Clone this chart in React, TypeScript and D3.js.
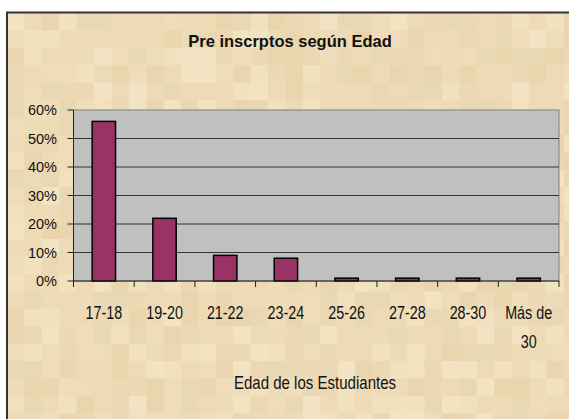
import React from "react";
import * as d3 from "d3";

const categories = ["17-18", "19-20", "21-22", "23-24", "25-26", "27-28", "28-30", "Más de 30"];
const values = [0.56, 0.22, 0.09, 0.08, 0.01, 0.01, 0.01, 0.01];
const yTicks = [0, 0.1, 0.2, 0.3, 0.4, 0.5, 0.6];
const title = "Pre inscrptos según Edad";
const xTitle = "Edad de los Estudiantes";

const W = 569;
const H = 419;
const palette = ["#EFDDB9", "#ECD8B2", "#F1E1BF", "#EAD5AE", "#EEDAB5", "#F2E3C3", "#E9D8B4", "#EDDBB7"];

export default function App() {
  const x = d3.scaleBand<string>().domain(categories).range([73.5, 559]).paddingInner(0.615).paddingOuter(0.3075);
  const xb = d3.scaleBand<string>().domain(categories).range([73.5, 559]);
  const y = d3.scaleLinear().domain([0, 0.6]).range([281, 110]);
  const fmt = d3.format(".0%");

  const tiles: JSX.Element[] = [];
  const ts = 17.4;
  for (let i = 0; i < Math.ceil(W / ts) + 1; i++) {
    for (let j = 0; j < Math.ceil(H / ts) + 1; j++) {
      const hv = Math.sin((i + 1) * 12.9898 + (j + 1) * 78.233) * 43758.5453;
      const h = Math.floor((hv - Math.floor(hv)) * palette.length);
      tiles.push(
        <rect key={`t${i}-${j}`} x={7 + i * ts} y={13 + j * ts} width={ts + 0.5} height={ts + 0.5} fill={palette[h]} />
      );
    }
  }

  const font = "'Liberation Sans', Arial, sans-serif";

  return (
    <svg width={W} height={H} style={{ position: "absolute", left: 0, top: 0 }} fontFamily={font}>
      <rect x={0} y={0} width={W} height={H} fill="#fff" />
      <g>{tiles}</g>
      <line x1={6} x2={W} y1={12.5} y2={12.5} stroke="#333" strokeWidth={2} />
      <line x1={7} x2={7} y1={12} y2={H} stroke="#333" strokeWidth={2} />

      <text x={290} y={47} textAnchor="middle" fontSize={16.5} fontWeight="bold" fill="#111">{title}</text>

      <rect x={73.5} y={110} width={559 - 73.5} height={171} fill="#C0C0C0" stroke="#808080" strokeWidth={1} />
      {yTicks.slice(1, -1).map((t) => (
        <line key={`g${t}`} x1={73.5} x2={559} y1={y(t)} y2={y(t)} stroke="#333" strokeWidth={1} />
      ))}

      {categories.map((c, i) => (
        <rect key={c} x={x(c)} y={y(values[i])} width={x.bandwidth()} height={y(0) - y(values[i])} fill="#993366" stroke="#000" strokeWidth={1.5} />
      ))}

      <line x1={73.5} x2={73.5} y1={110} y2={281} stroke="#222" strokeWidth={1} />
      {yTicks.map((t) => (
        <g key={`y${t}`}>
          <line x1={67.5} x2={73.5} y1={y(t)} y2={y(t)} stroke="#222" strokeWidth={1} />
          <text x={57} y={y(t) + 5} textAnchor="end" fontSize={14.5} fill="#111">{fmt(t)}</text>
        </g>
      ))}

      <line x1={73.5} x2={559} y1={281} y2={281} stroke="#222" strokeWidth={1.2} />
      {categories.concat(["__end"]).map((c, i) => {
        const px = i < categories.length ? (xb(c) as number) : 559;
        return <line key={`xt${i}`} x1={px} x2={px} y1={281} y2={287} stroke="#222" strokeWidth={1} />;
      })}
      {categories.map((c) => {
        const cx = (xb(c) as number) + xb.bandwidth() / 2;
        const words = c === "Más de 30" ? ["Más de", "30"] : [c];
        return (
          <g key={`xl${c}`}>
            {words.map((w, k) => (
              <text key={k} transform={`translate(${cx},${319 + k * 29}) scale(0.82,1)`} textAnchor="middle" fontSize={17.5} fill="#111">{w}</text>
            ))}
          </g>
        );
      })}

      <text transform={`translate(315,389) scale(0.86,1)`} textAnchor="middle" fontSize={17.5} fill="#111">{xTitle}</text>
    </svg>
  );
}
